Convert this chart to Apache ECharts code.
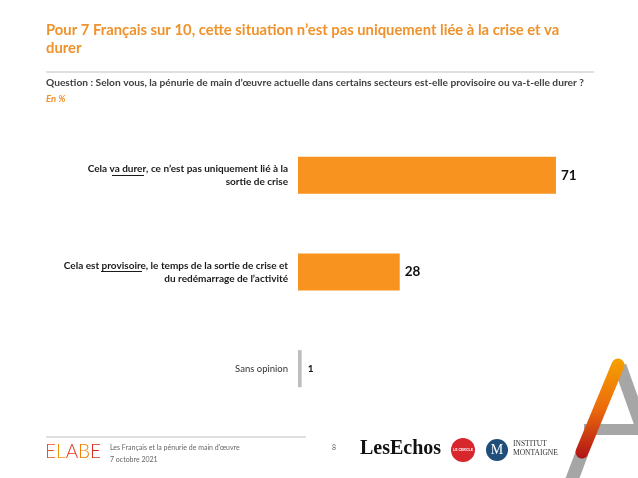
<!DOCTYPE html>
<html lang="fr">
<head>
    <meta charset="UTF-8">
    <title>Pénurie de main d'œuvre</title>
    <script src="https://cdn.jsdelivr.net/npm/echarts@6/dist/echarts.min.js"></script>
</head>
<style>
    * { margin: 0; padding: 0; }
    html, body { width: 100%; height: 100%; overflow: hidden; background: #fff; }
    .container { width: 638px; height: 478px; }
</style>
<body>
    <div class="container"></div>
</body>
<script>
    // données
    const categories = [
        'Cela {u|va durer}, ce n\u2019est pas uniquement lié à la\nsortie de crise',
        'Cela est {u|provisoire}, le temps de la sortie de crise et\ndu redémarrage de l\u2019activité',
        'Sans opinion'
    ];
    const values = [71, 28, 1];
    const barColors = ['#F7931E', '#F7931E', '#BDBDBD'];

    let container = document.querySelector('.container');
    let mychart = echarts.init(container);
    const font = 'Lato, "Liberation Sans", sans-serif';

    let seriesData = values.map((v, i) => ({
        value: v,
        itemStyle: { color: barColors[i] },
        label: i == 2 ? { fontSize: 10, distance: 6 } : {}
    }));

    let option = {
        backgroundColor: '#fff',
        textStyle: { fontFamily: font },
        grid: { left: 298, right: 13, top: 127, bottom: 61 },
        xAxis: { type: 'value', min: 0, max: 90, show: false },
        yAxis: {
            type: 'category',
            inverse: true,
            data: categories,
            axisLine: { show: false },
            axisTick: { show: false },
            axisLabel: {
                margin: 10,
                align: 'right',
                formatter: (val, idx) => idx == 2 ? '{n|' + val + '}' : val,
                fontFamily: font,
                fontSize: 10,
                fontWeight: 'bold',
                color: '#1a1a1a',
                lineHeight: 13,
                rich: {
                    u: { fontFamily: font, fontSize: 10, fontWeight: 'bold', color: '#1a1a1a', lineHeight: 13 },
                    n: { fontFamily: font, fontSize: 9.5, fontWeight: 'normal', color: '#333' }
                }
            }
        },
        series: [{
            type: 'bar',
            data: seriesData,
            barWidth: 37,
            label: {
                show: true,
                position: 'right',
                distance: 5,
                fontFamily: font,
                fontSize: 13.5,
                fontWeight: 'bold',
                color: '#111'
            }
        }],
        graphic: [
            // titre
            { type: 'text', left: 46, top: 21, style: {
                text: 'Pour 7 Français sur 10, cette situation n\u2019est pas uniquement liée à la crise et va\ndurer',
                fill: '#F0922B', font: 'bold 14.8px ' + font, lineHeight: 18 } },
            { type: 'line', shape: { x1: 46, y1: 72, x2: 594, y2: 72 }, style: { stroke: '#BFBFBF', lineWidth: 1 } },
            { type: 'text', left: 46, top: 78, style: {
                text: 'Question : Selon vous, la pénurie de main d\u2019œuvre actuelle dans certains secteurs est-elle provisoire ou va-t-elle durer ?',
                fill: '#404040', font: 'bold 10.2px ' + font } },
            { type: 'text', left: 46, top: 94, style: { text: 'En %', fill: '#F0922B', font: 'italic bold 9.5px ' + font } },
            // soulignements
            { type: 'line', shape: { x1: 112, y1: 175.5, x2: 144, y2: 175.5 }, style: { stroke: '#1a1a1a', lineWidth: 1 } },
            { type: 'line', shape: { x1: 101, y1: 271.5, x2: 142, y2: 271.5 }, style: { stroke: '#1a1a1a', lineWidth: 1 } },
            // pied de page
            { type: 'line', shape: { x1: 46, y1: 437, x2: 306, y2: 437 }, style: { stroke: '#BFBFBF', lineWidth: 1 } },
            { type: 'text', left: 45, top: 442, style: {
                text: '{a|E}{b|L}{c|A}{d|B}{e|E}',
                rich: {
                    a: { fill: '#E8501E', font: '300 19px ' + font },
                    b: { fill: '#F39200', font: '300 19px ' + font },
                    c: { fill: '#E4381E', font: '300 19px ' + font },
                    d: { fill: '#F07D00', font: '300 19px ' + font },
                    e: { fill: '#D52B1E', font: '300 19px ' + font }
                } } },
            { type: 'text', left: 110, top: 444, style: { text: 'Les Français et la pénurie de main d\u2019œuvre', fill: '#666', font: '7px ' + font } },
            { type: 'text', left: 110, top: 456, style: { text: '7 octobre 2021', fill: '#666', font: '7px ' + font } },
            { type: 'text', left: 332, top: 444, style: { text: '8', fill: '#666', font: '7px ' + font } },
            { type: 'text', left: 360, top: 439, style: { text: 'LesEchos', fill: '#111', font: 'bold 20px "Liberation Serif", serif' } },
            { type: 'circle', shape: { cx: 463, cy: 450, r: 12 }, style: { fill: '#D7262C' } },
            { type: 'text', x: 463, y: 450, style: { text: 'LE CERCLE', fill: '#fff', font: 'bold 4px ' + font, align: 'center', verticalAlign: 'middle' } },
            { type: 'circle', shape: { cx: 497, cy: 450, r: 11 }, style: { fill: '#1F4E7A' } },
            { type: 'text', x: 497, y: 450, style: { text: 'M', fill: '#fff', font: '14px "Liberation Serif", serif', align: 'center', verticalAlign: 'middle' } },
            { type: 'text', left: 513, top: 440, style: { text: 'INSTITUT\nMONTAIGNE', fill: '#333', font: '7.5px "Liberation Serif", serif', lineHeight: 9 } },
            // logo A
            { type: 'line', shape: { x1: 582, y1: 453, x2: 568, y2: 490 }, style: { stroke: '#A6A6A6', lineWidth: 13 } },
            { type: 'line', shape: { x1: 620, y1: 366, x2: 650, y2: 450 }, style: { stroke: '#A6A6A6', lineWidth: 13 } },
            { type: 'rect', shape: { x: 584, y: 424, width: 60, height: 11 }, style: { fill: '#A6A6A6' } },
            { type: 'line', shape: { x1: 618, y1: 365, x2: 582, y2: 452 }, style: {
                lineWidth: 13, lineCap: 'round',
                stroke: new echarts.graphic.LinearGradient(0, 0, 0, 1, [
                    { offset: 0, color: '#F5A100' },
                    { offset: 0.5, color: '#EC6B0C' },
                    { offset: 1, color: '#B01217' }
                ]) } }
        ]
    };
    mychart.setOption(option);
</script>
</html>
